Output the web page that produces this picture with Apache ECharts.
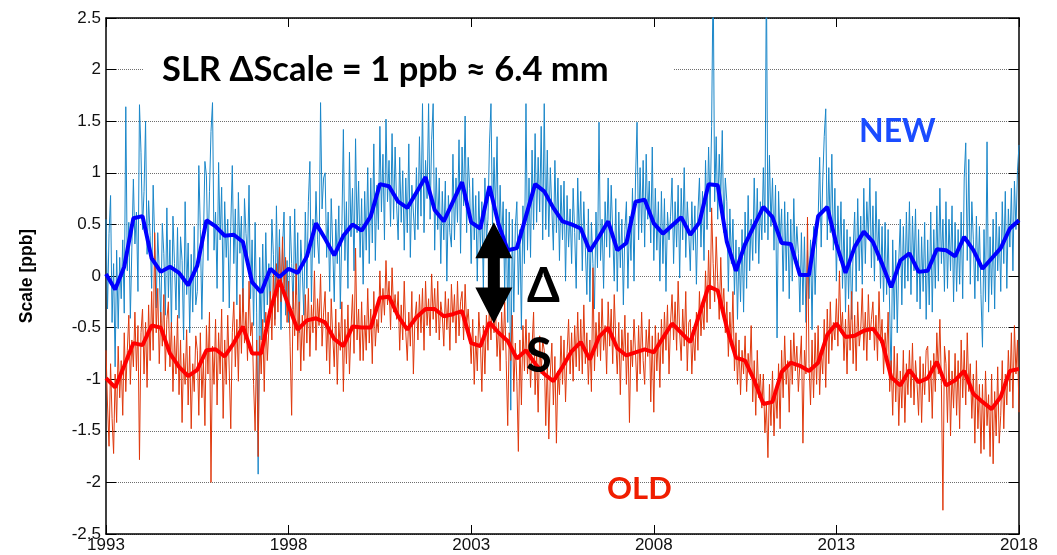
<!DOCTYPE html>
<html>
<head>
<meta charset="utf-8">
<script src="https://cdn.jsdelivr.net/npm/echarts@6/dist/echarts.min.js"></script>
<style>
  html, body { margin: 0; padding: 0; background: #ffffff; }
  #chart { width: 1057px; height: 555px; }
</style>
</head>
<body>
<div id="chart"></div>
<script>
// Time axis
const START_YEAR = 1993;
const END_YEAR = 2018;
const xTickYears = [1993, 1998, 2003, 2008, 2013, 2018];
const RAW_PER_YEAR = 24;      // semi-monthly scale solutions
const SMOOTH_PER_YEAR = 4;    // quarterly means

// NEW solution, semi-monthly scale [ppb] (one row per year)
const newScale = [
  0.55, -0.32, 0.41, 0.78, -0.45, 0.12, -0.88, 0.25, -0.51, 0.18, -0.22, 0.35, -0.36, 1.64, 0.05, 0.52, -0.41, 0.28, 0.94, 0.31, 0.62, -0.15, 1.66, 1.2,
  0.45, 0.82, 1.5, 0.21, 0.73, 0.39, -0.12, 0.88, 0.35, -0.31, 0.42, 0.05, -0.45, 0.51, 0.22, -0.38, 0.66, -0.21, 0.35, -0.52, 0.58, 0.12, -0.33, 0.47,
  -0.41, 0.38, 0.15, -0.62, 0.72, -0.18, 0.32, -0.55, 0.21, -0.35, 0.48, -0.28, -0.15, 1.07, 0.45, -0.42, 0.33, 1.11, 0.97, 0.15, 0.82, 1.4, 1.68, 0.25,
  0.62, -0.12, 1.1, 0.35, 0.86, -0.25, 0.72, 0.18, 0.55, -0.31, 0.48, 1.07, 0.12, 0.65, -0.28, 0.81, 0.22, 0.58, -0.35, 0.75, 0.41, 0.15, 0.88, -0.22,
  0.35, -0.48, 0.52, -0.35, -1.92, 0.18, -0.62, 0.31, -0.45, 0.42, -0.28, 0.12, -0.38, 0.55, 0.21, -0.42, 0.68, -0.15, 0.45, -0.52, 0.28, 0.62, -0.38, 0.15,
  -0.45, 0.58, 0.12, -0.32, 0.65, -0.18, 0.42, -0.55, 0.35, 0.05, -0.38, 0.62, -0.12, 0.72, 1.11, -0.25, 0.55, 0.18, 0.82, 0.35, 0.12, 1.68, 0.65, 0.95,
  1.0, 0.18, 0.62, -0.15, 0.75, 0.28, -0.25, 0.55, 0.12, 0.68, -0.32, 0.45, 1.42, 0.15, 0.72, -0.12, 1.2, 0.38, 0.85, 0.05, 1.33, 0.42, 0.92, 0.18,
  0.75, -0.08, 0.82, 0.25, 1.05, 0.12, 0.95, 0.32, 1.28, 0.15, 0.88, 0.45, 1.45, 0.62, 1.18, 0.35, 1.52, 0.72, 1.12, 0.48, 1.38, 0.55, 1.25, 0.68,
  0.35, 1.15, 0.52, 1.02, 0.25, 0.95, 0.42, 1.28, 0.18, 0.88, 0.62, 0.35, 1.05, 0.45, 1.35, 0.58, 1.67, 0.42, 1.12, 0.75, 1.67, 0.55, 1.32, 1.67,
  0.25, 1.05, 0.45, 0.95, 0.12, 0.82, 0.35, 0.92, -0.05, 0.78, 0.42, 0.28, 1.18, 0.35, 0.95, 0.52, 1.32, 0.22, 1.25, 0.68, 1.55, 0.42, 1.15, 0.85,
  0.12, 0.95, 0.35, 0.78, -0.05, 0.82, 0.25, 0.72, -0.12, 0.95, 0.35, 0.55, 1.28, 1.67, 0.48, 1.15, 0.62, 1.35, 0.15, 0.88, 0.32, 0.72, -0.15, 0.65,
  -0.45, 0.62, -1.3, 0.55, -0.35, 0.48, 0.72, -0.18, 0.45, -0.52, 0.68, 0.12, 1.67, 0.25, 0.95, 0.18, 1.22, 0.45, 1.38, 0.52, 1.15, 0.62, 1.45, 0.35,
  1.67, 0.45, 1.22, 0.38, 1.05, 0.65, 0.25, 1.12, 0.42, 0.95, 0.15, 0.88, 0.35, 0.92, -0.05, 0.78, 0.28, 0.65, 0.12, 0.85, 0.42, -0.12, 0.95, 0.35,
  0.82, 0.05, 0.72, 0.28, -0.18, 0.65, -0.25, 0.52, 0.12, -0.32, 0.62, 0.08, 1.49, 0.15, 0.55, -0.12, 0.72, 0.28, 0.95, 0.18, 0.88, 0.42, -0.05, 0.75,
  -0.15, 0.62, 0.08, 0.55, -0.28, 0.45, 0.72, -0.12, 0.58, 0.15, 0.85, -0.05, 0.95, 1.49, 0.35, 1.05, 0.42, 1.12, 0.28, 1.18, 0.55, 0.92, 0.32, 1.25,
  0.15, 0.85, 0.25, 0.72, -0.05, 0.82, 0.12, 0.75, -0.15, 0.62, 0.35, 0.58, 0.95, 0.12, 0.72, 0.28, 0.88, -0.02, 0.85, 0.35, 1.05, 0.18, 0.72, 0.42,
  0.05, 0.72, 0.25, 0.68, -0.08, 0.62, 0.95, 0.28, 0.82, 0.15, 1.12, 0.45, 1.25, 0.62, 1.45, 2.95, 0.72, 1.35, 0.55, 1.18, 0.75, 1.41, 0.42, 0.95,
  0.72, -0.15, 0.65, 0.12, 0.55, -0.18, 0.35, -0.42, 0.28, -0.25, 0.45, -0.35, 0.62, -0.12, 0.78, 0.05, 0.55, 0.15, 0.95, 0.22, 0.85, 0.12, 0.72, 0.35,
  1.05, 0.42, 2.95, 0.35, 1.17, 0.48, 0.95, 0.25, 0.88, -0.6, 0.82, 0.32, 0.65, -0.15, 0.72, 0.05, 0.62, -0.22, 0.55, -0.05, 0.75, 0.12, 0.48, 0.22,
  -0.35, 0.42, -0.28, 0.38, -0.45, 0.25, -0.22, 0.35, -0.52, 0.48, -0.18, 0.32, 0.55, 1.15, 0.28, 0.92, 1.35, 1.62, 0.35, 1.05, 0.42, 1.18, 0.25, 0.85,
  -0.05, 0.68, 0.15, 0.72, -0.12, 0.55, -0.35, 0.45, -0.22, 0.38, -0.42, 0.25, 0.62, -0.15, 0.75, 0.05, 0.58, -0.08, 0.85, 0.12, 0.72, 0.35, 0.95, 0.08,
  0.68, -0.05, 0.82, 0.15, 0.55, -0.12, 0.48, -0.25, 0.52, -0.18, 0.45, -0.32, -1.01, 0.35, -0.42, 0.25, -0.55, 0.15, 0.55, -0.28, 0.48, -0.12, 0.62, -0.05,
  0.72, -0.18, 0.58, 0.05, 0.65, -0.25, 0.45, -0.32, 0.38, -0.15, 0.52, -0.42, 0.35, -0.28, 0.62, -0.35, 0.45, -0.12, 0.68, -0.05, 0.85, 0.12, 0.55, -0.15,
  0.72, -0.12, 0.55, 0.05, 0.68, -0.25, 0.52, -0.15, 0.45, -0.08, 0.62, -0.22, 0.95, 1.29, 0.15, 1.13, -0.08, 0.72, 0.35, -0.22, 0.58, -0.05, 0.48, -0.18,
  -0.69, 0.45, -0.25, 1.30, -0.35, 0.38, -0.18, 0.55, -0.32, 0.62, 0.05, 0.48, -0.15, 0.72, 0.12, 0.82, -0.12, 0.65, 0.28, 0.85, 0.05, 0.92, 0.45, 1.02,
  1.27
];

// OLD solution, semi-monthly scale [ppb] (one row per year)
const oldScale = [
  -0.72, -1.25, -1.65, -0.85, -1.38, -1.72, -0.95, -1.42, -0.68, -1.18, -0.82, -1.35, -0.55, -1.12, -0.72, -0.38, -1.05, -0.62, -0.88, -0.35, -0.92, -0.48, -1.78, -0.55,
  -0.32, -0.95, -0.45, -1.08, -0.28, -0.82, -0.15, -0.72, 0.42, -0.55, -0.12, -0.85, -0.35, -0.68, -0.18, -0.92, -0.42, -0.25, -0.88, -0.45, -1.12, -0.58, -0.95, -0.38,
  -1.15, -0.62, -1.42, -0.75, -1.05, -0.52, -1.25, -0.68, -1.48, -0.85, -1.12, -0.58, -0.72, -1.35, -0.55, -1.18, -0.82, -1.45, -0.48, -0.95, -0.35, -2.0, -0.68, -1.05,
  -0.42, -1.25, -0.55, -0.95, -0.32, -1.38, -0.62, -1.05, -0.38, -0.92, -1.48, -0.55, -0.25, -0.88, -0.42, -1.02, -0.18, -0.75, -0.12, -0.65, -0.35, -0.82, -0.05, -0.58,
  -0.45, -1.05, -1.5, -0.62, -1.75, -0.58, -0.95, -0.42, -1.12, -0.35, -0.82, -0.52, -0.15, -0.62, 0.05, -0.48, 0.12, -0.35, 0.28, -0.25, 0.38, -0.12, 0.18, -0.45,
  -0.05, -0.68, -1.35, -0.15, -0.58, 0.12, -0.72, -0.25, -0.92, -0.38, -0.82, -0.18, -0.65, -0.12, -0.78, -0.28, -0.55, 0.05, -0.72, -0.22, -0.48, 0.02, -0.68, -0.35,
  -0.15, -0.82, -0.35, -0.95, -0.22, -0.58, -0.88, -0.32, -1.05, -0.45, -0.72, -0.25, -1.12, -0.42, -0.85, -0.28, -0.95, -0.52, -0.18, -0.75, 0.27, -0.62, -0.32, -0.82,
  -0.25, -0.82, -0.38, -0.72, -0.12, -0.65, -0.32, -0.85, -0.15, -0.68, -0.42, -0.55, 0.05, -0.45, -0.12, -0.38, 0.15, -0.28, -0.05, -0.52, 0.08, -0.35, -0.18, -0.42,
  -0.15, -0.72, -0.28, -0.62, -0.05, -0.55, -0.82, -0.35, -0.68, -0.15, -0.95, -0.42, -0.25, -0.62, -0.18, -0.55, -0.12, -0.72, -0.05, -0.48, -0.22, -0.58, 0.02, -0.42,
  -0.12, -0.55, -0.05, -0.62, -0.25, -0.38, -0.68, -0.15, -0.52, -0.22, -0.72, -0.08, -0.45, -0.18, -0.65, -0.05, -0.58, -0.25, -0.15, -0.62, -0.08, -0.48, -0.32, -0.55,
  -0.85, -0.42, -1.05, -0.58, -0.92, -0.35, -0.62, -1.12, -0.48, -0.95, -0.38, -0.72, -0.28, -0.62, -0.15, -0.55, -0.32, -0.78, -0.45, -0.92, -0.35, -0.72, -0.25, -0.82,
  -1.45, -0.55, -0.82, -0.38, -1.12, -0.65, -1.02, -1.7, -0.62, -1.25, -0.48, -0.92, -0.42, -0.95, -0.55, -1.08, -0.68, -0.35, -1.15, -0.72, -1.32, -0.58, -0.95, -0.62,
  -0.72, -1.45, -0.82, -1.58, -0.95, -0.65, -1.25, -0.78, -1.62, -0.92, -1.15, -0.58, -1.05, -0.62, -1.22, -0.75, -0.42, -0.95, -0.55, -1.02, -0.48, -0.88, -0.35, -0.92,
  -0.42, -0.95, -0.28, -0.85, -0.55, -1.05, -0.62, -1.12, 0.08, -0.92, -0.45, -0.78, -0.35, -0.82, -0.22, -0.72, -0.48, -0.95, -0.25, -0.68, -0.32, -0.85, -0.18, -0.62,
  -0.95, -0.45, -1.15, -0.52, -0.82, -0.38, -1.05, -0.55, -1.42, -0.62, -0.88, -0.42, -0.75, -1.12, -0.48, -0.95, -0.35, -0.82, -1.05, -0.52, -0.78, -0.42, -1.22, -0.58,
  -1.32, -0.48, -0.92, -0.55, -1.08, -0.42, -0.85, -0.35, -0.72, -0.28, -0.95, -0.45, -0.18, -0.62, -0.25, -0.72, -0.05, -0.55, -0.82, -0.32, -0.68, -0.15, -0.92, -0.45,
  -0.42, -0.95, -0.55, -0.82, -0.35, -0.72, -0.15, -0.58, -0.28, -0.52, 0.05, -0.45, 0.25, -0.32, 0.66, 0.12, -0.25, 0.38, -0.05, -0.42, 0.18, -0.35, -0.12, -0.55,
  -0.25, -0.78, -0.35, -0.68, -0.15, -0.92, -0.55, -1.05, -0.62, -1.15, -0.72, -0.95, -0.58, -1.12, -0.75, -0.95, -0.48, -1.22, -0.82, -1.35, -0.72, -1.18, -0.95, -1.28,
  -0.95, -1.52, -1.25, -1.76, -1.05, -1.45, -0.92, -1.55, -1.08, -1.38, -0.85, -1.48, -0.72, -1.18, -0.58, -1.05, -0.82, -1.32, -0.62, -1.05, -0.55, -0.92, -0.68, -1.12,
  -1.12, -0.58, -1.62, -0.72, -0.95, 0.57, -0.85, -1.25, -0.62, -1.18, -0.55, -1.05, -0.48, -1.15, -0.72, -0.95, -0.42, -1.08, -0.32, -0.85, -0.25, -0.72, -0.45, -0.62,
  -0.22, -0.68, 0.05, -0.55, -0.35, -0.82, -0.42, -0.95, -0.28, -0.72, -0.15, -0.85, -0.38, -0.92, -0.25, -0.68, -0.52, -0.12, -0.72, -0.35, -0.82, -0.18, -0.62, -0.42,
  -0.25, -0.72, -0.38, -0.82, -0.15, -0.65, -0.42, -0.95, -0.55, -0.78, -0.35, -1.12, -0.82, -1.35, -0.68, -1.22, -0.75, -1.45, -0.92, -1.28, -0.72, -1.42, -0.85, -1.15,
  -0.72, -1.18, -0.65, -1.25, -0.82, -1.05, -1.35, -0.78, -1.42, -0.85, -1.15, -0.72, -0.68, -1.22, -0.82, -1.38, -0.75, -1.12, -0.55, -0.95, -0.42, -1.05, -2.27, -0.68,
  -0.85, -1.42, -0.72, -1.55, -0.92, -1.28, -0.75, -1.35, -0.82, -1.48, -0.62, -1.18, -0.72, -1.25, -0.55, -1.12, -0.85, -1.38, -0.95, -1.62, -0.82, -1.48, -1.05, -1.72,
  -1.05, -1.68, -0.92, -1.45, -1.15, -1.75, -0.95, -1.82, -1.12, -1.55, -0.88, -1.62, -1.35, -0.82, -1.48, -0.95, -1.25, -0.72, -1.12, -0.55, -1.28, -0.48, -0.95, -0.62,
  -1.32
];

// Quarterly means [ppb]
const newQuarterly = [
  0.02, -0.13, 0.09, 0.56,
  0.58, 0.17, 0.04, 0.09,
  0.03, -0.09, 0.10, 0.54,
  0.48, 0.39, 0.40, 0.33,
  -0.06, -0.16, 0.07, -0.01,
  0.07, 0.03, 0.19, 0.51,
  0.36, 0.20, 0.39, 0.50,
  0.44, 0.58, 0.89, 0.87,
  0.72, 0.66, 0.81, 0.96,
  0.64, 0.53, 0.72, 0.91,
  0.52, 0.46, 0.87, 0.50,
  0.25, 0.27, 0.58, 0.89,
  0.82, 0.66, 0.53, 0.50,
  0.46, 0.24, 0.38, 0.53,
  0.25, 0.32, 0.72, 0.74,
  0.51, 0.41, 0.49, 0.57,
  0.40, 0.52, 0.89, 0.88,
  0.33, 0.05, 0.31, 0.49,
  0.67, 0.57, 0.32, 0.31,
  0.01, 0.01, 0.58, 0.67,
  0.31, 0.03, 0.28, 0.43,
  0.33, 0.12, -0.11, 0.15,
  0.22, 0.04, 0.05, 0.26,
  0.25, 0.19, 0.38, 0.25,
  0.07, 0.17, 0.27, 0.46,
  0.54
];
const oldQuarterly = [
  -0.99, -1.08, -0.87, -0.65,
  -0.67, -0.48, -0.50, -0.75,
  -0.88, -0.97, -0.91, -0.72,
  -0.71, -0.78, -0.65, -0.49,
  -0.75, -0.75, -0.33, -0.04,
  -0.29, -0.52, -0.43, -0.41,
  -0.45, -0.61, -0.68, -0.49,
  -0.50, -0.50, -0.21, -0.20,
  -0.39, -0.52, -0.40, -0.32,
  -0.32, -0.39, -0.37, -0.34,
  -0.65, -0.68, -0.45, -0.55,
  -0.63, -0.80, -0.72, -0.85,
  -0.95, -1.02, -0.88, -0.73,
  -0.64, -0.81, -0.59, -0.50,
  -0.70, -0.77, -0.74, -0.71,
  -0.74, -0.60, -0.46, -0.55,
  -0.64, -0.37, -0.10, -0.14,
  -0.50, -0.79, -0.82, -1.01,
  -1.24, -1.22, -0.93, -0.84,
  -0.87, -0.92, -0.84, -0.57,
  -0.46, -0.59, -0.58, -0.53,
  -0.51, -0.63, -0.98, -1.06,
  -0.91, -1.03, -0.99, -0.83,
  -1.06, -1.01, -0.92, -1.14,
  -1.22, -1.29, -1.17, -0.92,
  -0.90
];

// The ΔS arrow spans the gap between the two quarterly curves
const deltaArrow = { year: 2003.62, top: 0.52, bottom: -0.46 };

function withTime(values, perYear) {
  return values.map((v, i) => [START_YEAR + i / perYear, v]);
}

const chart = echarts.init(document.getElementById('chart'), null, { renderer: 'canvas' });

const axisFont = 'Liberation Sans, Arial, Helvetica, sans-serif';
const black = '#000000';

chart.setOption({
  animation: false,
  backgroundColor: '#ffffff',
  grid: { left: 106, right: 38, top: 18, bottom: 21, outerBoundsMode: 'none' },
  xAxis: [
    {
      type: 'value', min: START_YEAR, max: END_YEAR, position: 'bottom',
      axisLine: { show: true, onZero: false, lineStyle: { color: black, width: 1.5 } },
      axisTick: { show: true, inside: true, length: 9, customValues: xTickYears, lineStyle: { color: black } },
      axisLabel: {
        show: true, customValues: xTickYears, margin: 3, fontSize: 17, color: '#111', fontFamily: axisFont,
        formatter: (v) => String(v)
      },
      splitLine: { show: false }
    },
    {
      type: 'value', min: START_YEAR, max: END_YEAR, position: 'top',
      axisLine: { show: true, onZero: false, lineStyle: { color: black, width: 1.5 } },
      axisTick: { show: true, inside: true, length: 9, customValues: xTickYears, lineStyle: { color: black } },
      axisLabel: { show: false },
      splitLine: { show: false }
    }
  ],
  yAxis: [
    {
      type: 'value', min: -2.5, max: 2.5, interval: 0.5, position: 'left',
      name: 'Scale [ppb]', nameLocation: 'middle', nameRotate: 90, nameGap: 70,
      nameTextStyle: { fontWeight: 'bold', fontSize: 17.5, color: black, fontFamily: axisFont },
      axisLine: { show: true, onZero: false, lineStyle: { color: black, width: 1.5 } },
      axisTick: { show: true, inside: true, length: 10, lineStyle: { color: black } },
      axisLabel: { show: true, margin: 5, fontSize: 17, color: '#111', fontFamily: axisFont },
      splitLine: { show: true, lineStyle: { color: '#6e6e6e', width: 1, type: [1, 1] } }
    },
    {
      type: 'value', min: -2.5, max: 2.5, interval: 0.5, position: 'right',
      axisLine: { show: true, onZero: false, lineStyle: { color: black, width: 1.5 } },
      axisTick: { show: true, inside: true, length: 10, lineStyle: { color: black } },
      axisLabel: { show: false },
      splitLine: { show: false }
    }
  ],
  series: [
    {
      name: 'NEW', type: 'line', data: withTime(newScale, RAW_PER_YEAR),
      showSymbol: false, symbol: 'none', clip: true, z: 2,
      lineStyle: { color: '#1b87c9', width: 1 }
    },
    {
      name: 'OLD', type: 'line', data: withTime(oldScale, RAW_PER_YEAR),
      showSymbol: false, symbol: 'none', clip: true, z: 3,
      lineStyle: { color: '#e0380c', width: 1 }
    },
    {
      name: 'OLD quarterly', type: 'line', data: withTime(oldQuarterly, SMOOTH_PER_YEAR),
      showSymbol: false, symbol: 'none', clip: true, z: 4,
      lineStyle: { color: '#ff0000', width: 4 }
    },
    {
      name: 'NEW quarterly', type: 'line', data: withTime(newQuarterly, SMOOTH_PER_YEAR),
      showSymbol: false, symbol: 'none', clip: true, z: 5,
      lineStyle: { color: '#0000ff', width: 4 }
    }
  ]
});

// Annotations: headline, series tags and the double-headed ΔS arrow
const arrowTop = chart.convertToPixel({ xAxisIndex: 0, yAxisIndex: 0 }, [deltaArrow.year, deltaArrow.top]);
const arrowBot = chart.convertToPixel({ xAxisIndex: 0, yAxisIndex: 0 }, [deltaArrow.year, deltaArrow.bottom]);
const ax = arrowTop[0], headW = 18.5, headH = 36, shaftW = 6;
const arrowPoints = [
  [ax, arrowTop[1]],
  [ax + headW, arrowTop[1] + headH],
  [ax + shaftW, arrowTop[1] + headH],
  [ax + shaftW, arrowBot[1] - headH],
  [ax + headW, arrowBot[1] - headH],
  [ax, arrowBot[1]],
  [ax - headW, arrowBot[1] - headH],
  [ax - shaftW, arrowBot[1] - headH],
  [ax - shaftW, arrowTop[1] + headH],
  [ax - headW, arrowTop[1] + headH]
];

const annoFont = 'Lato, "Open Sans", sans-serif';

chart.setOption({
  graphic: [
    { type: 'rect', z: 50, shape: { x: 143, y: 52, width: 530, height: 38 }, style: { fill: '#ffffff' } },
    {
      type: 'text', z: 51, x: 162, y: 70,
      style: { text: 'SLR ΔScale = 1 ppb ≈ 6.4 mm', fill: '#000', fontFamily: annoFont, fontWeight: 'bold', fontSize: 34.5, textAlign: 'left', textVerticalAlign: 'middle' }
    },
    {
      type: 'text', z: 51, x: 859, y: 132,
      style: { text: 'NEW', fill: '#1a4cff', fontFamily: annoFont, fontWeight: 'bold', fontSize: 32, textAlign: 'left', textVerticalAlign: 'middle' }
    },
    {
      type: 'text', z: 51, x: 607, y: 489,
      style: { text: 'OLD', fill: '#f01e00', fontFamily: annoFont, fontWeight: 'bold', fontSize: 31, textAlign: 'left', textVerticalAlign: 'middle' }
    },
    { type: 'polygon', z: 52, shape: { points: arrowPoints }, style: { fill: '#000' } },
    {
      type: 'text', z: 51, x: 527, y: 287,
      style: { text: 'Δ', fill: '#000', fontFamily: annoFont, fontWeight: 'bold', fontSize: 47, textAlign: 'left', textVerticalAlign: 'middle' }
    },
    {
      type: 'text', z: 51, x: 526, y: 357,
      style: { text: 'S', fill: '#000', fontFamily: annoFont, fontWeight: 'bold', fontSize: 47, textAlign: 'left', textVerticalAlign: 'middle' }
    }
  ]
});
</script>
</body>
</html>
